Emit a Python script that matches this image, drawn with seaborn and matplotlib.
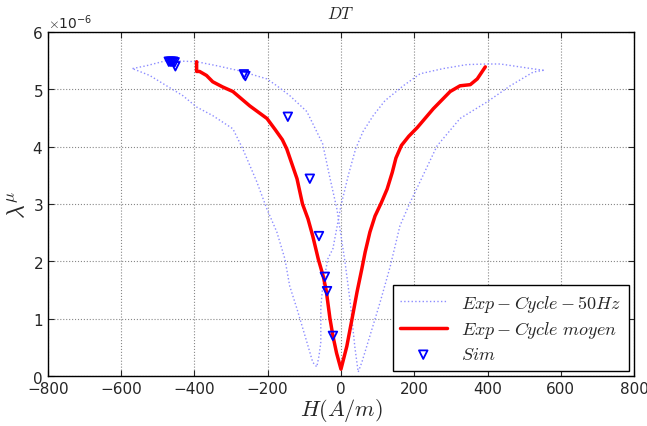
import numpy as np
import pandas as pd
import seaborn as sns
import matplotlib
matplotlib.use("Agg")
import matplotlib.pyplot as plt
from matplotlib.ticker import ScalarFormatter

# Exp - Cycle - 50Hz : butterfly loop, two branches (lambda in 1e-6)
loop_dec_H = [553, 509, 435, 399, 344, 279, 216, 170, 120, 88, 60, 40, 20, 0, -22, -36, -50,
              -55, -55, -60, -66, -77, -93, -120, -140, -153, -175, -202, -230, -268, -295,
              -350, -394, -432, -476, -522, -569]
loop_dec_L = [5.33, 5.37, 5.44, 5.44, 5.43, 5.36, 5.27, 5.06, 4.80, 4.54, 4.26, 3.96, 3.50, 2.97,
              2.22, 2.04, 1.55, 1.20, 0.59, 0.35, 0.16, 0.24, 0.59, 1.17, 1.57, 2.04, 2.51,
              2.91, 3.39, 3.96, 4.31, 4.54, 4.69, 4.89, 5.06, 5.24, 5.36]
loop_inc_H = [-569, -531, -476, -394, -339, -276, -202, -175, -140, -93, -50, -30, -11, 11, 25,
              38, 47, 57, 79, 107, 134, 161, 189, 216, 262, 325, 399, 462, 525, 553]
loop_inc_L = [5.36, 5.41, 5.50, 5.48, 5.41, 5.32, 5.18, 5.06, 4.89, 4.61, 4.05, 3.45, 2.91, 1.99,
              1.30, 0.50, 0.07, 0.24, 0.70, 1.29, 1.90, 2.62, 3.03, 3.39, 4.01, 4.49, 4.78,
              5.06, 5.30, 5.33]

# Exp - Cycle moyen
mean_H = [-394, -394, -386, -367, -350, -323, -295, -249, -202, -180, -160, -148, -134, -120,
          -105, -90, -77, -62, -48, -40, -30, -22, -12, 0, 16, 30, 44, 57, 66, 79, 93, 110,
          126, 140, 150, 165, 185, 208, 252, 298, 325, 353, 372, 394]
mean_L = [5.48, 5.31, 5.31, 5.24, 5.13, 5.04, 4.96, 4.71, 4.49, 4.30, 4.12, 3.96, 3.70, 3.44,
          3.00, 2.74, 2.44, 2.04, 1.73, 1.48, 1.00, 0.70, 0.40, 0.12, 0.52, 0.99, 1.47, 1.87,
          2.16, 2.51, 2.79, 3.02, 3.26, 3.55, 3.80, 4.02, 4.18, 4.33, 4.66, 4.96, 5.06, 5.08,
          5.18, 5.39]

# Sim
sim_H = [-470, -466, -462, -458, -454, -452, -265, -261, -145, -85, -60, -44, -38, -22]
sim_L = [5.48, 5.48, 5.48, 5.48, 5.47, 5.40, 5.26, 5.23, 4.52, 3.44, 2.44, 1.73, 1.48, 0.70]

scale = 1e-6

sns.set_style("ticks")
plt.rcParams["mathtext.fontset"] = "cm"
plt.rcParams["font.family"] = ["DejaVu Sans"]

fig = plt.figure(figsize=(6.47, 4.27), dpi=100)
ax = fig.add_axes([0.074, 0.117, 0.906, 0.806])

loop_color = (0.55, 0.55, 1.0)
dec = pd.DataFrame({"H": loop_dec_H, "L": np.array(loop_dec_L) * scale})
inc = pd.DataFrame({"H": loop_inc_H, "L": np.array(loop_inc_L) * scale})
sns.lineplot(data=dec, x="H", y="L", sort=False, estimator=None, ax=ax,
             color=loop_color, linestyle=":", linewidth=1.0,
             label=r"$Exp-Cycle-50Hz$")
sns.lineplot(data=inc, x="H", y="L", sort=False, estimator=None, ax=ax,
             color=loop_color, linestyle=":", linewidth=1.0)

mean = pd.DataFrame({"H": mean_H, "L": np.array(mean_L) * scale})
sns.lineplot(data=mean, x="H", y="L", sort=False, estimator=None, ax=ax,
             color="red", linewidth=2.5, label=r"$Exp-Cycle\ moyen$")

sim = pd.DataFrame({"H": sim_H, "L": np.array(sim_L) * scale})
sns.scatterplot(data=sim, x="H", y="L", ax=ax, marker="v", s=38,
                facecolor="none", edgecolor="blue", linewidth=1.3,
                label=r"$Sim$", zorder=5)

ax.set_xlim(-800, 800)
ax.set_ylim(0, 6e-6)
ax.set_xticks(np.arange(-800, 801, 200))
ax.set_yticks(np.arange(0, 6.01e-6, 1e-6))
fmt = ScalarFormatter(useMathText=True)
fmt.set_powerlimits((0, 0))
ax.yaxis.set_major_formatter(fmt)
ax.yaxis.get_offset_text().set_fontsize(10)

ax.grid(True, color="#888888", linestyle=":", linewidth=0.8)
ax.tick_params(direction="in", length=4, labelsize=11, top=True, right=True)
for sp in ax.spines.values():
    sp.set_visible(True)
    sp.set_color("black")
    sp.set_linewidth(1.0)

ax.set_title(r"$DT$", fontsize=12, pad=10)
ax.set_xlabel(r"$H(A/m)$", fontsize=16, labelpad=0)
ax.set_ylabel(r"$\lambda^{\mu}$", fontsize=17, labelpad=2)

leg = ax.legend(loc="lower right", fontsize=13, frameon=True, fancybox=False,
                borderaxespad=0.3, handlelength=2.6, labelspacing=0.3)
leg.get_frame().set_edgecolor("black")
leg.get_frame().set_linewidth(1.0)
leg.get_frame().set_alpha(1)

fig.savefig("out.png", dpi=100)
